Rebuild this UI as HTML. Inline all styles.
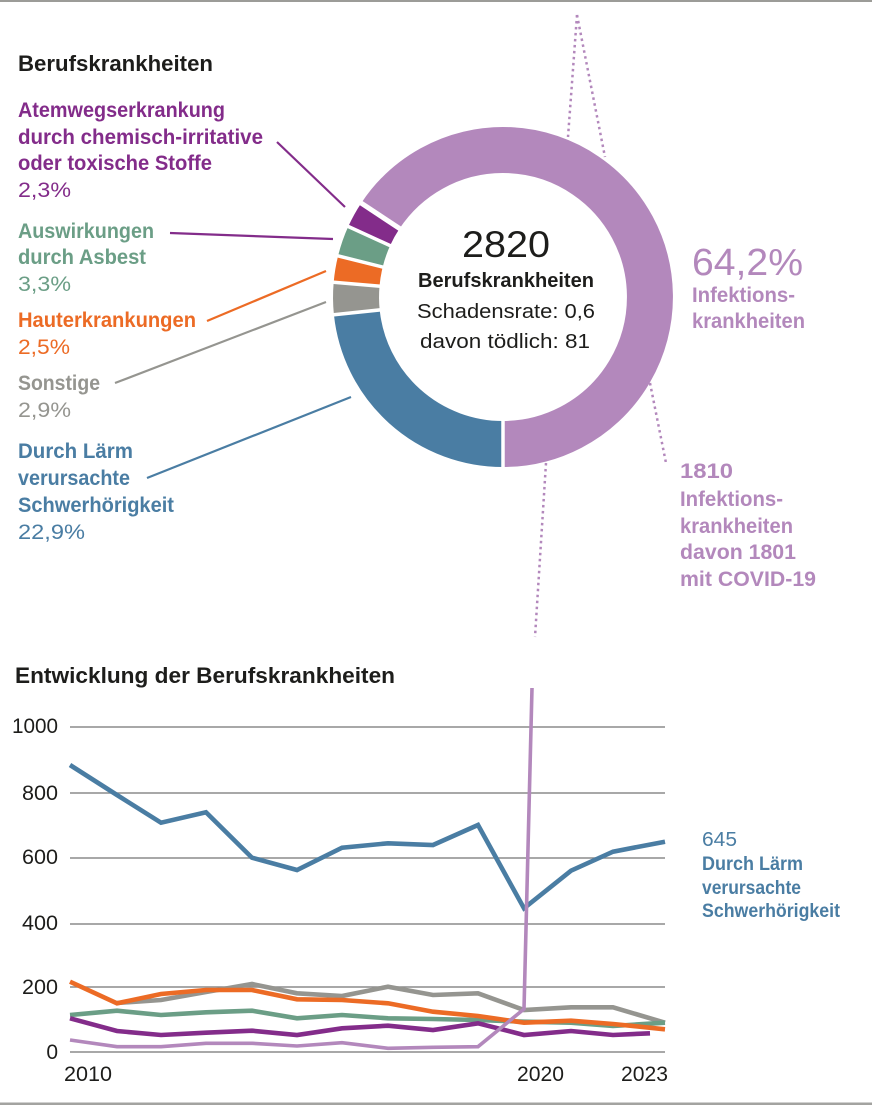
<!DOCTYPE html>
<html>
<head>
<meta charset="utf-8">
<style>
  html, body { margin:0; padding:0; background:#fff; }
  svg { display:block; }
  text { font-family: "Liberation Sans", "DejaVu Sans", sans-serif; }
  .b { font-weight:bold; }
</style>
</head>
<body>
<svg width="872" height="1105" viewBox="0 0 872 1105" xmlns="http://www.w3.org/2000/svg">
  <rect x="0" y="0" width="872" height="1105" fill="#ffffff"/>
  <!-- borders -->
  <rect x="0" y="0" width="872" height="2" fill="#9c9c98"/>
  <rect x="0" y="1102.5" width="872" height="2.5" fill="#a3a3a0"/>

  <!-- dotted connectors -->
  <g stroke="#b388bc" stroke-width="2.5" stroke-dasharray="2.5 3.5" fill="none">
    <line x1="577" y1="15" x2="568" y2="137"/>
    <line x1="577" y1="15" x2="605" y2="157"/>
    <line x1="650" y1="383" x2="666" y2="463"/>
    <line x1="546" y1="463" x2="535" y2="637"/>
  </g>

  <!-- donut -->
  <g fill="none" stroke-width="46">
    <path d="M380.4 215.8 A147 147 0 1 1 503 444" stroke="#b388bc"/>
    <path d="M503 444 A147 147 0 0 1 356.8 312.4" stroke="#4a7da3"/>
    <path d="M356.8 312.4 A147 147 0 0 1 356.6 284.2" stroke="#959590"/>
    <path d="M356.6 284.2 A147 147 0 0 1 360.4 261.4" stroke="#ec6b25"/>
    <path d="M360.4 261.4 A147 147 0 0 1 369.2 236.0" stroke="#6b9e86"/>
    <path d="M369.2 236.0 A147 147 0 0 1 380.4 215.8" stroke="#832c8a"/>
  </g>
  <g stroke="#ffffff" stroke-width="3.5">
    <line x1="503" y1="415" x2="503" y2="475"/>
    <line x1="385.6" y1="309.3" x2="328.0" y2="315.4"/>
    <line x1="385.4" y1="286.7" x2="327.7" y2="281.7"/>
    <line x1="388.5" y1="268.5" x2="332.2" y2="254.4"/>
    <line x1="395.6" y1="248.1" x2="342.8" y2="224.0"/>
  </g>
  <line x1="404.6" y1="231.8" x2="356.2" y2="199.8" stroke="#ffffff" stroke-width="5"/>

  <!-- leader lines -->
  <g stroke-width="2.2" fill="none">
    <line x1="277" y1="142" x2="345" y2="207" stroke="#832c8a"/>
    <line x1="170" y1="233" x2="333" y2="239" stroke="#832c8a"/>
    <line x1="207" y1="321" x2="326" y2="271" stroke="#ec6b25"/>
    <line x1="115" y1="383" x2="326" y2="302" stroke="#959590"/>
    <line x1="147" y1="478" x2="351" y2="397" stroke="#4a7da3"/>
  </g>

  <!-- titles -->
  <text x="18" y="71" class="b" font-size="22" fill="#1d1d1b" textLength="195" lengthAdjust="spacingAndGlyphs">Berufskrankheiten</text>
  <text x="15" y="683" class="b" font-size="22" fill="#1d1d1b" textLength="380" lengthAdjust="spacingAndGlyphs">Entwicklung der Berufskrankheiten</text>

  <!-- left labels -->
  <g fill="#832c8a">
    <text x="18" y="117" class="b" font-size="21" textLength="207" lengthAdjust="spacingAndGlyphs">Atemwegserkrankung</text>
    <text x="18" y="144" class="b" font-size="21" textLength="245" lengthAdjust="spacingAndGlyphs">durch chemisch-irritative</text>
    <text x="18" y="170" class="b" font-size="21" textLength="194" lengthAdjust="spacingAndGlyphs">oder toxische Stoffe</text>
    <text x="18" y="197" font-size="21" textLength="53" lengthAdjust="spacingAndGlyphs">2,3%</text>
  </g>
  <g fill="#6b9e86">
    <text x="18" y="238" class="b" font-size="21" textLength="136" lengthAdjust="spacingAndGlyphs">Auswirkungen</text>
    <text x="18" y="264" class="b" font-size="21" textLength="128" lengthAdjust="spacingAndGlyphs">durch Asbest</text>
    <text x="18" y="291" font-size="21" textLength="53" lengthAdjust="spacingAndGlyphs">3,3%</text>
  </g>
  <g fill="#ec6b25">
    <text x="18" y="327" class="b" font-size="21" textLength="178" lengthAdjust="spacingAndGlyphs">Hauterkrankungen</text>
    <text x="18" y="354" font-size="21" textLength="52" lengthAdjust="spacingAndGlyphs">2,5%</text>
  </g>
  <g fill="#959590">
    <text x="18" y="390" class="b" font-size="21" textLength="82" lengthAdjust="spacingAndGlyphs">Sonstige</text>
    <text x="18" y="417" font-size="21" textLength="53" lengthAdjust="spacingAndGlyphs">2,9%</text>
  </g>
  <g fill="#4a7da3">
    <text x="18" y="458" class="b" font-size="21" textLength="115" lengthAdjust="spacingAndGlyphs">Durch Lärm</text>
    <text x="18" y="485" class="b" font-size="21" textLength="112" lengthAdjust="spacingAndGlyphs">verursachte</text>
    <text x="18" y="512" class="b" font-size="21" textLength="156" lengthAdjust="spacingAndGlyphs">Schwerhörigkeit</text>
    <text x="18" y="539" font-size="21" textLength="67" lengthAdjust="spacingAndGlyphs">22,9%</text>
  </g>

  <!-- center text -->
  <g fill="#1d1d1b">
    <text x="462" y="257" font-size="37" textLength="88" lengthAdjust="spacingAndGlyphs">2820</text>
    <text x="418" y="287" class="b" font-size="20" textLength="176" lengthAdjust="spacingAndGlyphs">Berufskrankheiten</text>
    <text x="417" y="318" font-size="20" textLength="178" lengthAdjust="spacingAndGlyphs">Schadensrate: 0,6</text>
    <text x="420" y="348" font-size="20" textLength="170" lengthAdjust="spacingAndGlyphs">davon tödlich: 81</text>
  </g>

  <!-- right labels -->
  <g fill="#b388bc">
    <text x="692" y="275" font-size="38" textLength="111" lengthAdjust="spacingAndGlyphs">64,2%</text>
    <text x="692" y="302" class="b" font-size="21" textLength="103" lengthAdjust="spacingAndGlyphs">Infektions-</text>
    <text x="692" y="328" class="b" font-size="21" textLength="113" lengthAdjust="spacingAndGlyphs">krankheiten</text>
    <text x="680" y="478" class="b" font-size="21" textLength="53" lengthAdjust="spacingAndGlyphs">1810</text>
    <text x="680" y="506" class="b" font-size="21" textLength="103" lengthAdjust="spacingAndGlyphs">Infektions-</text>
    <text x="680" y="533" class="b" font-size="21" textLength="113" lengthAdjust="spacingAndGlyphs">krankheiten</text>
    <text x="680" y="559" class="b" font-size="21" textLength="116" lengthAdjust="spacingAndGlyphs">davon 1801</text>
    <text x="680" y="586" class="b" font-size="21" textLength="136" lengthAdjust="spacingAndGlyphs">mit COVID-19</text>
  </g>

  <!-- line chart grid -->
  <g stroke="#8c8c8c" stroke-width="1.6">
    <line x1="70" y1="727" x2="665" y2="727"/>
    <line x1="70" y1="793" x2="665" y2="793"/>
    <line x1="70" y1="858" x2="665" y2="858"/>
    <line x1="70" y1="924" x2="665" y2="924"/>
    <line x1="70" y1="987" x2="665" y2="987"/>
    <line x1="70" y1="1052" x2="665" y2="1052"/>
  </g>
  <g fill="#1d1d1b" font-size="21" text-anchor="end">
    <text x="58" y="733" textLength="46" lengthAdjust="spacingAndGlyphs">1000</text>
    <text x="58" y="800" textLength="36" lengthAdjust="spacingAndGlyphs">800</text>
    <text x="58" y="864" textLength="36" lengthAdjust="spacingAndGlyphs">600</text>
    <text x="58" y="930" textLength="36" lengthAdjust="spacingAndGlyphs">400</text>
    <text x="58" y="994" textLength="36" lengthAdjust="spacingAndGlyphs">200</text>
    <text x="58" y="1059">0</text>
  </g>
  <g fill="#1d1d1b" font-size="21">
    <text x="64" y="1081" textLength="48" lengthAdjust="spacingAndGlyphs">2010</text>
    <text x="517" y="1081" textLength="47" lengthAdjust="spacingAndGlyphs">2020</text>
    <text x="621" y="1081" textLength="47" lengthAdjust="spacingAndGlyphs">2023</text>
  </g>

  <!-- series -->
  <g fill="none" stroke-width="4.6" stroke-linejoin="miter" stroke-linecap="butt">
    <polyline stroke="#959590" points="117,1003 161,1000 206,992 252,984 297,993.3 342,996 388,986.7 433,995 478,993.3 524,1010 571,1007.3 613,1007.3 665,1022.7"/>
    <polyline stroke="#6b9e86" points="70,1015 117,1010.7 161,1015 206,1012.3 252,1010.7 297,1018.3 342,1015 388,1018.3 433,1019 478,1020 524,1021.7 571,1022.7 613,1026 665,1022.7"/>
    <polyline stroke="#ec6b25" points="70,981.7 117,1003.3 161,994 206,990 252,990 297,999.3 342,1000 388,1003.3 433,1011.7 478,1016 524,1022.7 571,1020.7 613,1024 665,1029.3"/>
    <polyline stroke="#832c8a" points="70,1018.3 117,1031 161,1035 206,1032.7 252,1030.7 297,1035 342,1028.3 388,1025.7 433,1030 478,1023.3 524,1035 571,1031 613,1035 650,1033.3"/>
    <polyline stroke="#4a7da3" points="70,765 117,795 161,822.7 206,812.3 252,857.7 297,870 342,847.7 388,843.3 433,845 478,825 524,908.3 571,870.7 613,851.7 665,841.7"/>
    <polyline stroke="#b388bc" stroke-width="3.6" points="70,1040 117,1046.7 161,1046.7 206,1043.3 252,1043.3 297,1046 342,1042.7 388,1048.3 433,1047.3 478,1046.7 524,1009 532,688"/>
  </g>

  <!-- end label -->
  <g fill="#4a7da3">
    <text x="702" y="846" font-size="20" textLength="35" lengthAdjust="spacingAndGlyphs">645</text>
    <text x="702" y="870" class="b" font-size="19" textLength="101" lengthAdjust="spacingAndGlyphs">Durch Lärm</text>
    <text x="702" y="894" class="b" font-size="19" textLength="99" lengthAdjust="spacingAndGlyphs">verursachte</text>
    <text x="702" y="917" class="b" font-size="19" textLength="138" lengthAdjust="spacingAndGlyphs">Schwerhörigkeit</text>
  </g>
</svg>
</body>
</html>
